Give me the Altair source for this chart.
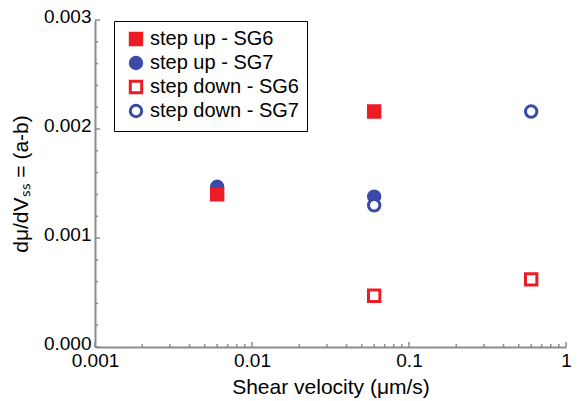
import altair as alt
import pandas as pd

# data (drawing order: SG7 up, SG6 up, SG6 down, SG7 down)
series = ["step up - SG7", "step up - SG7", "step up - SG6", "step up - SG6",
          "step down - SG6", "step down - SG6", "step down - SG7", "step down - SG7"]
velocity = [0.006, 0.06, 0.006, 0.06, 0.06, 0.6, 0.06, 0.6]
value = [0.00147, 0.00138, 0.00140, 0.00216, 0.00047, 0.00062, 0.00130, 0.00216]

legend_order = ["step up - SG6", "step up - SG7", "step down - SG6", "step down - SG7"]
shapes = ["square", "circle", "square", "circle"]
RED = "#EC1C24"
BLUE = "#3B4AA6"
strokes = [RED, BLUE, RED, BLUE]
fills = [RED, BLUE, "white", "white"]

x_major = [0.001, 0.01, 0.1, 1]
x_minor = [m * 10 ** e for e in (-3, -2, -1) for m in range(2, 10)]
y_major = [0.0, 0.001, 0.002, 0.003]
y_minor = [0.0002, 0.0004, 0.0006, 0.0008, 0.0012, 0.0014, 0.0016, 0.0018,
           0.0022, 0.0024, 0.0026, 0.0028]

df = pd.DataFrame({"series": series, "velocity": velocity, "value": value,
                   "ord": list(range(len(series)))})

W, H = 471, 327
FONT = "Liberation Sans"
AX = "#8c8c8c"

xscale = alt.Scale(type="log", domain=[0.001, 1], nice=False)
yscale = alt.Scale(domain=[0, 0.003], nice=False, zero=False)

points = alt.Chart(df).mark_point(filled=False, size=130, strokeWidth=3, opacity=1).encode(
    x=alt.X("velocity:Q", scale=xscale,
            axis=alt.Axis(values=x_major, format="~g", title="Shear velocity (μm/s)",
                          ticks=False, domainColor=AX, domainWidth=2, labelFontSize=19,
                          labelFont=FONT, labelColor="black", labelPadding=4,
                          titleFont=FONT, titleFontSize=21, titleFontWeight="normal",
                          titleColor="black", titlePadding=6, grid=False,
                          labelFlush=False)),
    y=alt.Y("value:Q", scale=yscale,
            axis=alt.Axis(values=y_major, format=".3f", title="dμ/dVₛₛ = (a-b)",
                          ticks=False, domainColor=AX, domainWidth=2, labelFontSize=19,
                          labelFont=FONT, labelColor="black", labelPadding=4,
                          labelOffset=-4,
                          titleFont=FONT, titleFontSize=21, titleFontWeight="normal",
                          titleColor="black", titlePadding=12, grid=False)),
    shape=alt.Shape("series:N", scale=alt.Scale(domain=legend_order, range=shapes),
                    legend=alt.Legend(title=None, orient="none", legendX=19, legendY=1,
                                      strokeColor="black", fillColor="white", padding=8,
                                      labelFontSize=20, labelFont=FONT, labelColor="black",
                                      symbolSize=130, symbolStrokeWidth=3, rowPadding=0,
                                      labelOffset=4, symbolOffset=4, labelLimit=300)),
    stroke=alt.Stroke("series:N", scale=alt.Scale(domain=legend_order, range=strokes),
                      legend=None),
    fill=alt.Fill("series:N", scale=alt.Scale(domain=legend_order, range=fills),
                  legend=None),
    order=alt.Order("ord:Q"),
)

xt_major = alt.Chart(pd.DataFrame({"t": x_major})).mark_rule(color=AX, strokeWidth=1.5).encode(
    x=alt.X("t:Q", scale=xscale), y=alt.value(H), y2=alt.value(H - 5))
xt_minor = alt.Chart(pd.DataFrame({"t": x_minor})).mark_rule(color=AX, strokeWidth=1.5).encode(
    x=alt.X("t:Q", scale=xscale), y=alt.value(H), y2=alt.value(H - 3))
yt_major = alt.Chart(pd.DataFrame({"t": y_major})).mark_rule(color=AX, strokeWidth=1.5).encode(
    y=alt.Y("t:Q", scale=yscale), x=alt.value(0), x2=alt.value(5))
yt_minor = alt.Chart(pd.DataFrame({"t": y_minor})).mark_rule(color=AX, strokeWidth=1.5).encode(
    y=alt.Y("t:Q", scale=yscale), x=alt.value(0), x2=alt.value(3))

chart = alt.layer(xt_major, xt_minor, yt_major, yt_minor, points).properties(
    width=W, height=H,
    autosize=alt.AutoSizeParams(type="none"),
    padding={"left": 95, "top": 20, "right": 14, "bottom": 54},
    background="white",
).configure_view(stroke=None).configure_axis(labelFontWeight="normal")

chart.save("out.html", embed_options={"renderer": "svg", "actions": False})
